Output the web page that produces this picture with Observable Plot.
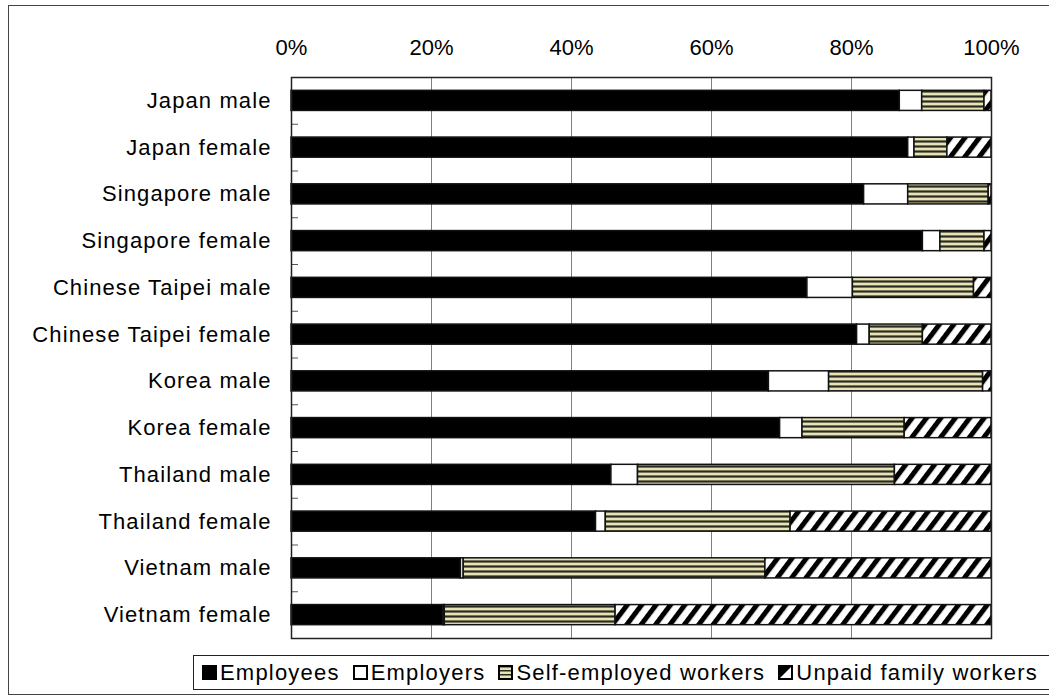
<!DOCTYPE html>
<html>
<head>
<meta charset="utf-8">
<script src="https://cdn.jsdelivr.net/npm/d3@7"></script>
<script src="https://cdn.jsdelivr.net/npm/@observablehq/plot@0.6"></script>
<style>
  html, body { margin: 0; padding: 0; background: #fff; }
  #wrap { position: relative; width: 1049px; height: 700px; overflow: hidden; font-family: "Liberation Sans", Arial, sans-serif; }
  #outer { position: absolute; left: 8px; top: 5px; width: 1100px; height: 690px; border: 1.5px solid #444; box-sizing: border-box; }
  #chart { position: absolute; left: 0; top: 0; }
  #chart g[aria-label="y-axis tick label"] { letter-spacing: 1.1px; }
  #legend { position: absolute; left: 193px; top: 655px; width: 900px; height: 35px; border: 1.5px solid #222; box-sizing: border-box; display: flex; align-items: center; font-size: 22px; letter-spacing: 1.2px; color: #000; padding-left: 8px; white-space: nowrap; }
  #legend .item { display: flex; align-items: center; margin-right: 13px; }
  #legend svg { margin-right: 3px; }
</style>
</head>
<body>
<div id="wrap">
  <div id="outer"></div>
  <div id="chart"></div>
  <div id="legend"></div>
</div>
<script>
const categories = ["Japan male", "Japan female", "Singapore male", "Singapore female",
  "Chinese Taipei male", "Chinese Taipei female", "Korea male", "Korea female",
  "Thailand male", "Thailand female", "Vietnam male", "Vietnam female"];
const seriesNames = ["Employees", "Employers", "Self-employed workers", "Unpaid family workers"];
const employees  = [86.9, 88.1, 81.8, 90.2, 73.7, 80.8, 68.2, 69.8, 45.7, 43.5, 24.2, 21.7];
const employers  = [3.2, 0.9, 6.3, 2.5, 6.5, 1.8, 8.6, 3.2, 3.8, 1.4, 0.4, 0.2];
const selfEmployed = [8.9, 4.7, 11.5, 6.3, 17.3, 7.6, 22.0, 14.6, 36.7, 26.4, 43.1, 24.4];
const unpaidFamily = [1.0, 6.3, 0.4, 1.0, 2.5, 9.8, 1.2, 12.4, 13.8, 28.7, 32.3, 53.7];
const xTicks = [0, 20, 40, 60, 80, 100];

const seriesValues = [employees, employers, selfEmployed, unpaidFamily];
const fills = ["black", "white", "url(#hstripe)", "url(#diag)"];

const rows = [];
categories.forEach((c, i) => {
  seriesNames.forEach((s, j) => rows.push({category: c, series: s, value: seriesValues[j][i]}));
});

const plot = Plot.plot({
  width: 1049,
  height: 650,
  marginLeft: 291,
  marginRight: 58,
  marginTop: 77,
  marginBottom: 12,
  style: {fontSize: "22px", fontFamily: "'Liberation Sans', Arial, sans-serif", background: "transparent", color: "#000"},
  x: {domain: [0, 100]},
  y: {domain: categories, paddingInner: 0.57, paddingOuter: 0.285, round: false},
  color: {domain: seriesNames, range: fills},
  marks: [
    Plot.gridX(xTicks.slice(1, -1), {stroke: "#808080", strokeOpacity: 1, strokeWidth: 1}),
    Plot.ruleY(categories.slice(1), {y: d => d, x1: 0, x2: 1, dy: -23.375, stroke: "#555", strokeWidth: 1}),
    Plot.barX(rows, Plot.stackX({y: "category", x: "value", fill: "series", order: seriesNames,
      stroke: "#111", strokeWidth: 1.5})),
    Plot.frame({stroke: "#222", strokeWidth: 1.5}),
    Plot.axisX(xTicks, {anchor: "top", tickSize: 0, tickPadding: 23, tickFormat: d => d + "%", label: null}),
    Plot.axisY({tickSize: 0, tickPadding: 20, label: null})
  ]
});

const svg = d3.select(plot);
const defs = svg.insert("defs", ":first-child");
const hs = defs.append("pattern").attr("id", "hstripe").attr("patternUnits", "userSpaceOnUse")
  .attr("width", 10).attr("height", 5);
hs.append("rect").attr("width", 10).attr("height", 5).attr("fill", "#e6e4b6");
hs.append("rect").attr("y", 0).attr("width", 10).attr("height", 1).attr("fill", "#76745a");
hs.append("rect").attr("y", 1).attr("width", 10).attr("height", 1).attr("fill", "#2a2a20");
hs.append("rect").attr("y", 2).attr("width", 10).attr("height", 1).attr("fill", "#76745a");
const dg = defs.append("pattern").attr("id", "diag").attr("patternUnits", "userSpaceOnUse")
  .attr("width", 11.5).attr("height", 10).attr("patternTransform", "rotate(37)");
dg.append("rect").attr("width", 11.5).attr("height", 10).attr("fill", "white");
dg.append("rect").attr("width", 5).attr("height", 10).attr("fill", "black");

document.getElementById("chart").appendChild(plot);

// legend
const legend = d3.select("#legend");
seriesNames.forEach((s, j) => {
  const item = legend.append("div").attr("class", "item");
  const sw = item.append("svg").attr("width", 15).attr("height", 15);
  const sd = sw.append("defs");
  if (j === 2) {
    const p = sd.append("pattern").attr("id", "lhs").attr("patternUnits", "userSpaceOnUse").attr("width", 15).attr("height", 4);
    p.append("rect").attr("width", 15).attr("height", 4).attr("fill", "#e6e4b6");
    p.append("rect").attr("y", 1).attr("width", 15).attr("height", 1.5).attr("fill", "#2a2a20");
  }
  const fill = j === 0 ? "black" : j === 1 ? "white" : j === 2 ? "url(#lhs)" : "white";
  sw.append("rect").attr("x", 1).attr("y", 1).attr("width", 13).attr("height", 13)
    .attr("fill", fill).attr("stroke", "black").attr("stroke-width", 2);
  if (j === 3) {
    sw.append("path").attr("d", "M1,14 L14,1 L1,1 Z").attr("fill", "black");
  }
  item.append("span").text(s);
});
</script>
</body>
</html>
